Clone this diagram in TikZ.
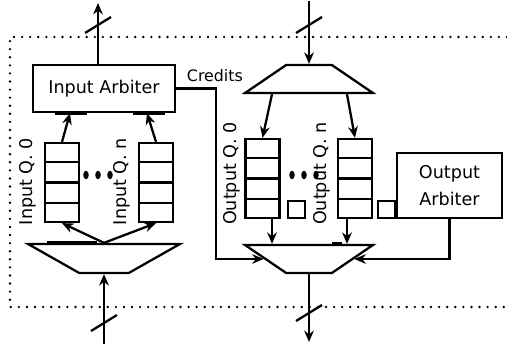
\documentclass[tikz,border=0pt]{standalone}
\usepackage{fontspec}
\setsansfont{DejaVu Sans}
\usetikzlibrary{arrows.meta,positioning,shapes.geometric,calc}

\begin{document}
\begin{tikzpicture}[x=0.02cm, y=-0.02cm,
	box/.style={draw, line width=1.3pt, minimum width=2.84cm, minimum height=0.94cm,
		align=center, font=\sffamily\fontsize{10}{15}\selectfont},
	queue/.style={draw, line width=1.3pt, minimum width=0.68cm, minimum height=1.58cm, inner sep=0pt},
	slot/.style={line width=1.3pt},
	qlabel/.style={rotate=90, anchor=south, inner sep=1pt, font=\sffamily\fontsize{10}{12}\selectfont},
	mux/.style={draw, line width=1.3pt, trapezium, trapezium stretches=true, inner sep=2pt},
	cnt/.style={draw, line width=1.3pt, minimum size=0.34cm, inner sep=0pt},
	arr/.style={-{Stealth[length=6.5pt, width=5.5pt]}, line width=1.3pt},
	port/.style={line width=2.4pt},
	slash/.style={line width=1.3pt},
	frame/.style={line width=1.5pt, line cap=round, dash pattern=on 0pt off 4.6pt}
]
	\useasboundingbox (0,0) rectangle (507,344);

	% Router boundary
	\draw[frame] (507,37) -- (10,37) -- (10,307) -- (507,307);

	% Input side
	\node[box] (inarb) at (104,88.5) {Input Arbiter};
	\node[queue] (inq0) at (62,182.5) {};
	\node[queue] (inqn) at (156,182.5) {};
	\node[mux, minimum width=3.04cm, minimum height=0.58cm,
		trapezium left angle=136, trapezium right angle=136] (inmux) at (104,258.5) {};

	\node[qlabel] (inq0lbl) at ([shift={(-6,-1)}]inq0.west) {Input Q. 0};
	\node[qlabel] (inqnlbl) at ([shift={(-6,-1)}]inqn.west) {Input Q. n};

	% Output side
	\node[mux, minimum width=2.56cm, minimum height=0.56cm,
		trapezium left angle=48, trapezium right angle=48] (outdmx) at (309,79) {};
	\node[queue] (outq0) at (262.5,178.5) {};
	\node[queue] (outqn) at (355,178.5) {};
	\node[cnt, anchor=south west] (cnt0) at ([xshift=0.12cm]outq0.south east) {};
	\node[cnt, anchor=south west] (cntn) at ([xshift=0.08cm]outqn.south east) {};
	\node[mux, minimum width=2.56cm, minimum height=0.56cm,
		trapezium left angle=132, trapezium right angle=132] (outmux) at (309,259) {};
	\node[box, minimum width=2.1cm, minimum height=1.3cm] (outarb) at (449.5,185.5) {Output\\Arbiter};

	\node[qlabel] (outq0lbl) at ([shift={(-2,-5)}]outq0.west) {Output Q. 0};
	\node[qlabel] (outqnlbl) at ([shift={(-5,-5)}]outqn.west) {Output Q. n};

	% queue slots
	\foreach \q in {inq0,inqn,outq0,outqn}
		\foreach \k in {1,2,3}
			\draw[slot] ($(\q.north west)!\k/4!(\q.south west)$) -- ($(\q.north east)!\k/4!(\q.south east)$);

	% dots between queues
	\foreach \x in {86,98,110,292,304,316}
		\fill (\x,175) ellipse [x radius=0.055cm, y radius=0.085cm];

	% ports
	\draw[port] ([xshift=-0.98cm]inarb.south) -- ([xshift=-0.34cm]inarb.south);
	\draw[port] ([xshift=0.58cm]inarb.south) -- ([xshift=1.22cm]inarb.south);
	\draw[port] ([xshift=-1.14cm]inmux.north) -- ([xshift=-0.14cm]inmux.north);
	\draw[port] ([xshift=0.46cm]outmux.north) -- ([xshift=0.66cm]outmux.north);

	% external links
	\coordinate (inup) at (98,3);
	\coordinate (indown) at (104,344);
	\coordinate (outup) at (309,1);
	\coordinate (outdown) at (309,342);
	\draw[arr] (inup |- inarb.north) -- (inup);
	\draw[arr] (indown) -- (inmux.south);
	\draw[arr] (outup) -- (outdmx.north);
	\draw[arr] (outmux.south) -- (outdown);

	\coordinate (sl1) at (98,25);
	\coordinate (sl2) at (104,323);
	\coordinate (sl3) at (309,25);
	\coordinate (sl4) at (309,313);
	\foreach \s in {sl1,sl2,sl3,sl4}
		\draw[slash] ([shift={(-13,8)}]\s) -- ([shift={(13,-8)}]\s);

	% queues to arbiter and muxes
	\draw[arr] (inq0.north) -- ([xshift=-0.68cm]inarb.south);
	\draw[arr] (inqn.north) -- ([xshift=0.86cm]inarb.south);
	\draw[arr] (inmux.north) -- (inq0.south);
	\draw[arr] (inmux.north) -- (inqn.south);

	\draw[arr] ([xshift=-0.74cm]outdmx.south) -- (outq0.north);
	\draw[arr] ([xshift=0.76cm]outdmx.south) -- (outqn.north);
	\draw[arr] ([xshift=0.19cm]outq0.south) -- ([xshift=0.19cm]outq0.south |- outmux.north);
	\draw[arr] ([xshift=-0.16cm]outqn.south) -- ([xshift=-0.16cm]outqn.south |- outmux.north);

	% credits and output arbiter grants
	\coordinate (crd) at (216,200);
	\draw[arr] (inarb.east) -| (crd) |- (outmux.west);
	\node[anchor=south west, inner sep=2pt, yshift=1.5pt, font=\sffamily\fontsize{9}{11}\selectfont]
		(crdlbl) at ([xshift=0.14cm]inarb.east) {Credits};
	\draw[arr] (outarb.south) |- (outmux.east);
\end{tikzpicture}
\end{document}
